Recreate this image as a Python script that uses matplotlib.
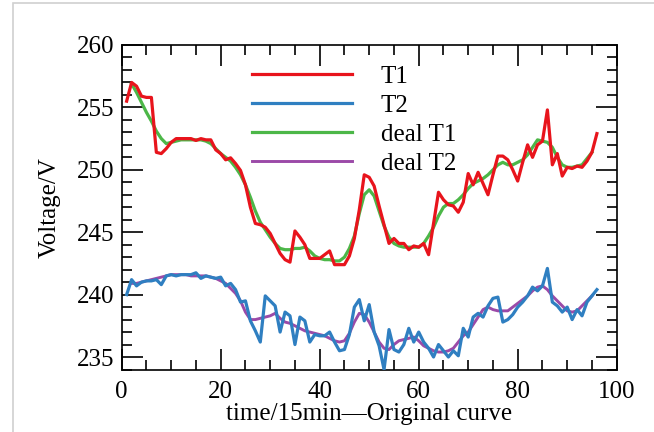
import numpy as np
import matplotlib
matplotlib.use("Agg")
import matplotlib.pyplot as plt
from matplotlib.patches import Rectangle
from matplotlib.ticker import MultipleLocator

# time index (15 min steps) and voltages
t_raw = np.arange(1, 97)
t_deal = np.arange(2, 96)

T1 = [255.5, 257.0, 256.7, 255.9, 255.8, 255.8, 251.4, 251.3, 251.7, 252.2,
      252.5, 252.5, 252.5, 252.5, 252.35, 252.5, 252.4, 252.4, 251.6, 251.3,
      250.8, 250.96, 250.5, 249.95, 248.8, 247.0, 245.7, 245.6, 245.4, 244.9,
      244.1, 243.3, 242.8, 242.6, 245.1, 244.6, 244.0, 242.9, 242.9, 242.9,
      243.2, 243.5, 242.4, 242.4, 242.4, 243.1, 244.5, 246.8, 249.6, 249.4,
      248.7, 247.1, 245.6, 244.1, 244.5, 244.1, 244.1, 243.6, 243.9, 243.8,
      244.1, 243.2, 245.7, 248.2, 247.6, 247.2, 247.1, 246.6, 247.4, 249.7,
      248.8, 249.8, 248.9, 248.0, 249.6, 251.1, 251.1, 250.8, 250.0, 249.1,
      250.6, 252.0, 251.0, 252.0, 252.3, 254.8, 250.4, 251.3, 249.5, 250.2,
      250.1, 250.3, 250.2, 250.7, 251.4, 252.9]

T2 = [240.0, 241.2, 240.7, 241.0, 241.1, 241.1, 241.2, 240.8, 241.5, 241.6,
      241.5, 241.6, 241.6, 241.6, 241.75, 241.3, 241.5, 241.4, 241.3, 241.4,
      240.7, 240.9, 240.4, 239.4, 239.5, 237.9, 237.1, 236.2, 239.9, 239.5,
      239.1, 237.0, 238.6, 238.3, 236.0, 238.2, 237.9, 236.2, 236.8, 236.7,
      236.7, 237.0, 236.2, 235.5, 235.6, 236.8, 239.0, 239.6, 237.9, 239.2,
      237.0, 235.9, 234.0, 237.2, 235.6, 235.4, 236.0, 237.3, 236.2, 237.0,
      236.2, 235.7, 235.0, 236.0, 235.5, 235.0, 235.5, 235.1, 237.3, 236.6,
      238.2, 238.5, 238.2, 239.1, 239.7, 239.8, 237.8, 238.0, 238.4, 239.0,
      239.4, 239.9, 240.6, 240.3, 240.7, 242.1, 239.4, 239.1, 238.6, 239.0,
      238.0, 238.8, 238.3, 239.4, 239.9, 240.4]

deal_T1 = [256.9, 256.2, 255.4, 254.6, 253.9, 253.1, 252.5, 252.1, 252.2, 252.3,
           252.4, 252.4, 252.4, 252.4, 252.4, 252.3, 252.1, 251.7, 251.3, 251.0,
           250.7, 250.2, 249.6, 248.8, 247.8, 246.7, 245.8, 245.2, 244.6, 244.1,
           243.7, 243.6, 243.6, 243.7, 243.7, 243.8, 243.5, 243.1, 242.9, 242.8,
           242.8, 242.7, 242.7, 243.0, 243.7, 244.7, 246.5, 248.0, 248.4, 247.9,
           246.7, 245.5, 244.6, 244.1, 243.9, 243.8, 243.8, 243.8, 243.8, 244.1,
           244.7, 245.4, 246.3, 247.0, 247.3, 247.3, 247.6, 248.0, 248.5, 248.9,
           249.1, 249.3, 249.6, 250.0, 250.4, 250.6, 250.4, 250.4, 250.6, 250.8,
           251.2, 251.8, 252.4, 252.3, 252.2, 251.8, 251.0, 250.4, 250.2, 250.2,
           250.3, 250.4, 250.9, 251.4]

deal_T2 = [240.9, 240.9, 241.0, 241.1, 241.2, 241.3, 241.4, 241.5, 241.6, 241.6,
           241.6, 241.6, 241.5, 241.5, 241.5, 241.5, 241.4, 241.3, 241.1, 240.9,
           240.5, 240.1, 239.5, 238.6, 238.0, 238.0, 238.1, 238.2, 238.3, 238.5,
           238.1, 237.8, 237.7, 237.5, 237.3, 237.1, 237.0, 236.9, 236.8, 236.7,
           236.5, 236.3, 236.2, 236.3, 236.9, 237.8, 238.5, 238.4, 237.8, 237.0,
           236.2, 235.7, 235.6, 236.0, 236.3, 236.4, 236.5, 236.6, 236.3, 235.9,
           235.7, 235.5, 235.4, 235.4, 235.5, 235.7, 236.2, 236.7, 237.0, 237.6,
           238.2, 238.8, 239.0, 238.8, 238.7, 238.7, 238.7, 239.0, 239.3, 239.6,
           239.9, 240.3, 240.6, 240.7, 240.4, 239.9, 239.5, 239.1, 238.7, 238.6,
           238.7, 239.1, 239.5, 239.9]

plt.rcParams["font.family"] = ["Liberation Serif", "DejaVu Serif"]
plt.rcParams["font.size"] = 18

fig = plt.figure(figsize=(6.54, 4.32), dpi=100)
fig.patches.append(Rectangle((13 / 654, -0.1), 1.2, 1.1 - 3 / 432,
                             transform=fig.transFigure, fill=False,
                             ec="#d0d0d0", lw=1.2))
ax = fig.add_axes([121.7 / 654, 1 - 369.5 / 432, 495 / 654, 324.5 / 432])

h1, = ax.plot(t_raw, T1, color="#e8141c", lw=2.3, zorder=4, label="T1")
h2, = ax.plot(t_raw, T2, color="#2f7fc1", lw=2.3, zorder=4, label="T2")
h3, = ax.plot(t_deal, deal_T1, color="#4cb748", lw=2.3, zorder=3, label="deal T1")
h4, = ax.plot(t_deal, deal_T2, color="#9b4aa8", lw=2.1, zorder=3, label="deal T2")

ax.set_xlim(0, 100)
ax.set_ylim(234, 260)
ax.xaxis.set_major_locator(MultipleLocator(20))
ax.xaxis.set_minor_locator(MultipleLocator(5))
ax.yaxis.set_major_locator(MultipleLocator(5))
ax.yaxis.set_minor_locator(MultipleLocator(1))
ax.tick_params(which="both", direction="in", top=True, right=True, width=1.2)
ax.tick_params(which="major", length=15)
ax.tick_params(which="minor", length=7.5)
ax.tick_params(axis="y", pad=5)
ax.tick_params(axis="x", pad=8)
for sp in ax.spines.values():
    sp.set_linewidth(1.2)

ax.set_xlabel("time/15min\u2014Original curve", labelpad=0)
ax.set_ylabel("Voltage/V", labelpad=12)

ax.legend(handles=[h1, h2, h3, h4], loc="upper left",
          bbox_to_anchor=(0.263, 0.938), frameon=False, borderpad=0,
          borderaxespad=0, handlelength=4.0, handletextpad=1.15,
          labelspacing=0.26, fontsize=18)

fig.savefig("out.png", dpi=100)
